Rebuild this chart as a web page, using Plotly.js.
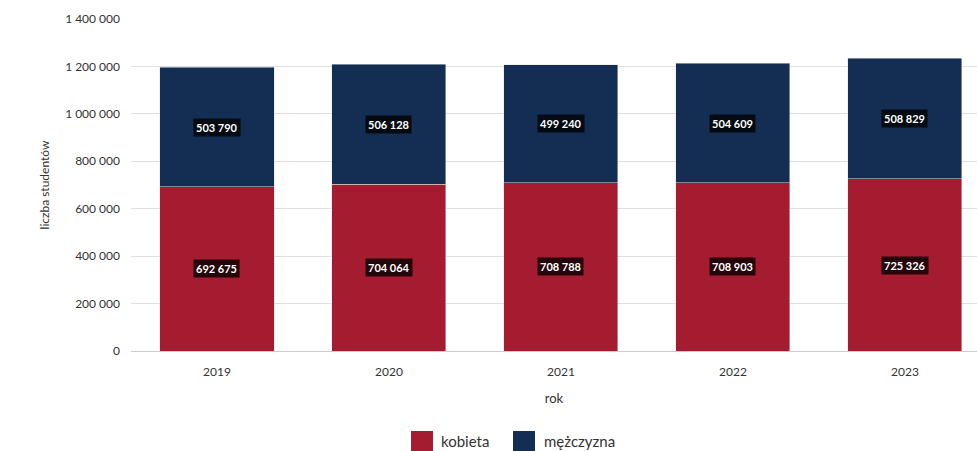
<!DOCTYPE html>
<html><head><meta charset="utf-8">
<script src="https://cdn.plot.ly/plotly-3.0.1.min.js"></script>
<style>html,body{margin:0;padding:0;background:#fff;}#chart{width:977px;height:451px;}</style>
</head><body><div id="chart"></div>
<script>
const years = ['2019', '2020', '2021', '2022', '2023'];
const kobieta = [692675, 704064, 708788, 708903, 725326];
const mezczyzna = [503790, 506128, 499240, 504609, 508829];
const seriesNames = ['kobieta', 'mężczyzna'];
const colors = ['#A51C30', '#142D52'];

function fmt(v){ return String(v).replace(/\B(?=(\d{3})+(?!\d))/g, ' '); }

const traces = [
  {type:'bar', name:seriesNames[0], x:years, y:kobieta, marker:{color:colors[0], line:{color:'#e0e0e0', width:0.5}}, hoverinfo:'y'},
  {type:'bar', name:seriesNames[1], x:years, y:mezczyzna, marker:{color:colors[1], line:{color:'#e0e0e0', width:0.5}}, hoverinfo:'y'}
];

const annotations = [];
years.forEach((yr, i) => {
  annotations.push({xref:'x', yref:'y', x:i, y:kobieta[i]/2, text:'<b>'+fmt(kobieta[i])+'</b>', showarrow:false,
    font:{color:'#fff', size:11, family:'Lato, sans-serif'}, bgcolor:'rgba(0,0,0,0.78)', borderpad:2});
  annotations.push({xref:'x', yref:'y', x:i, y:kobieta[i] + mezczyzna[i]/2, text:'<b>'+fmt(mezczyzna[i])+'</b>', showarrow:false,
    font:{color:'#fff', size:11, family:'Lato, sans-serif'}, bgcolor:'rgba(0,0,0,0.78)', borderpad:2});
});

// custom legend (pixel positions converted to paper coords)
const L = 131, W = 846, T = 19, H = 332;
const px = v => (v - L) / W;
const py = v => (T + H - v) / H;
const legendItems = [{sx:411, tx:439}, {sx:513, tx:542}];
const shapes = [];
legendItems.forEach((it, k) => {
  shapes.push({type:'rect', xref:'paper', yref:'paper', x0:px(it.sx), x1:px(it.sx+22), y0:py(431), y1:py(453),
    fillcolor:colors[k], line:{width:0}, layer:'above'});
  annotations.push({xref:'paper', yref:'paper', x:px(it.tx), y:py(441), xanchor:'left', yanchor:'middle',
    text:seriesNames[k], showarrow:false, font:{size:15, color:'#333', family:'Lato, sans-serif'}});
});

const layout = {
  width:977, height:451,
  margin:{l:131, r:0, t:19, b:100},
  barmode:'stack', bargap:0.337,
  separators:', ',
  font:{family:'Lato, sans-serif', size:12, color:'#333'},
  paper_bgcolor:'#fff', plot_bgcolor:'#fff',
  xaxis:{type:'category', range:[-0.5, 4.419], showgrid:false, showline:true, linecolor:'#ccc', linewidth:1,
    ticks:'', ticklabelstandoff:10, tickfont:{size:12, color:'#333'}, title:{text:'rok', font:{size:13, color:'#333'}, standoff:15}},
  yaxis:{range:[0, 1400000], dtick:200000, tickformat:',d', showgrid:true, gridcolor:'#e0e0e0', zeroline:false,
    ticks:'', ticklabelstandoff:10, tickfont:{size:12, color:'#333'},
    title:{text:'liczba studentów', font:{size:12, color:'#333'}, standoff:12}},
  shapes: shapes,
  annotations: annotations,
  showlegend:false
};

Plotly.newPlot('chart', traces, layout, {displayModeBar:false, staticPlot:true});
</script></body></html>
